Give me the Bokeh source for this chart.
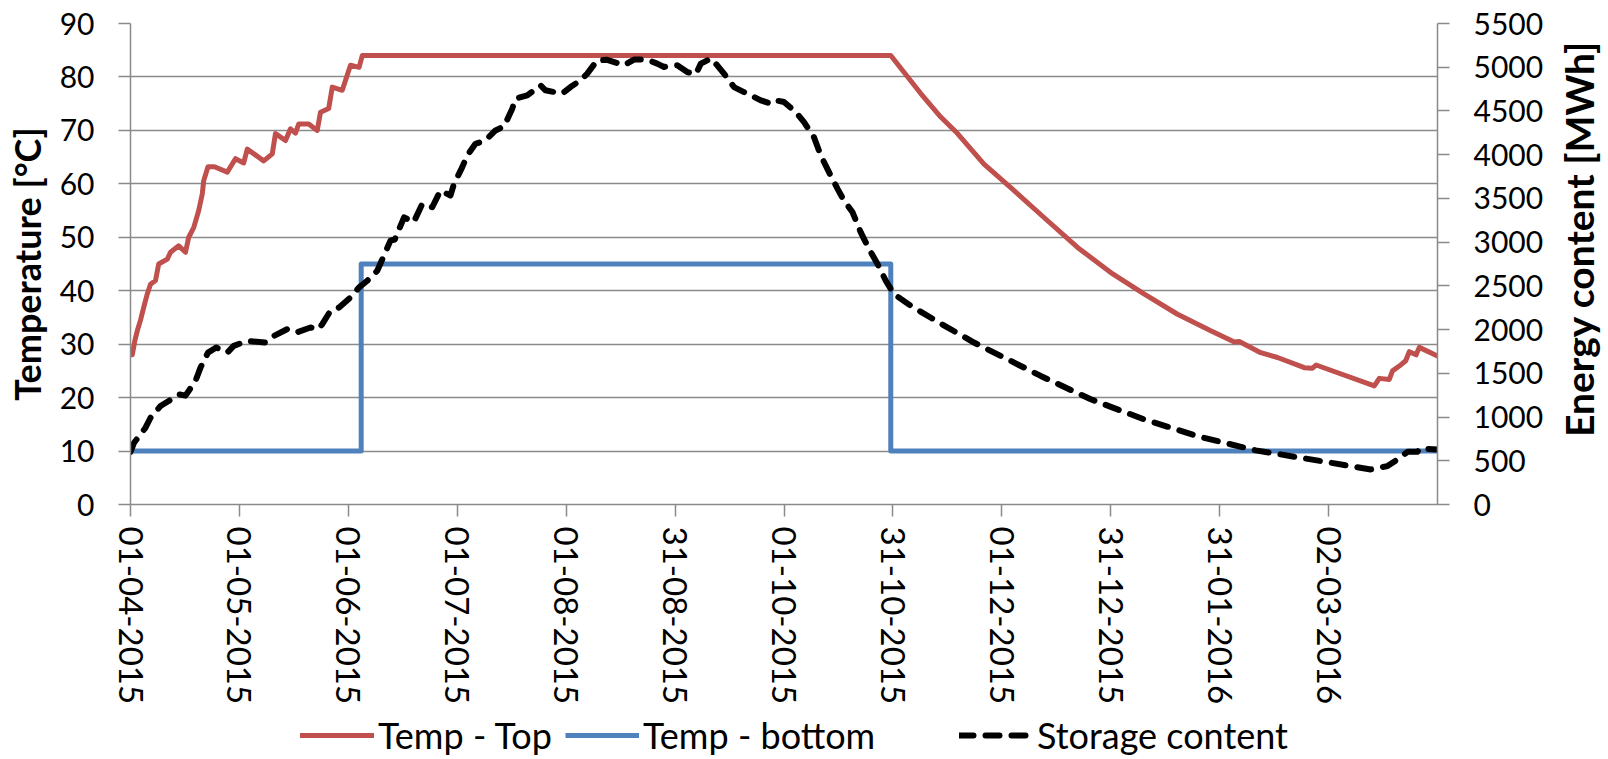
import math
from bokeh.plotting import figure
from bokeh.layouts import column, row
from bokeh.models import Range1d, LinearAxis, FixedTicker, Legend, LegendItem, Label
from bokeh.embed import file_html
from bokeh.resources import INLINE

# ---------------- data (days since 01-04-2015) ----------------
tick_days = [0, 30.5, 61, 91.5, 122, 152.5, 183, 213.5, 244, 274.5, 305, 335.5]
tick_labels = ["01-04-2015", "01-05-2015", "01-06-2015", "01-07-2015", "01-08-2015",
               "31-08-2015", "01-10-2015", "31-10-2015", "01-12-2015", "31-12-2015",
               "31-01-2016", "02-03-2016"]
temp_ticks = [0, 10, 20, 30, 40, 50, 60, 70, 80, 90]
energy_ticks = [0, 500, 1000, 1500, 2000, 2500, 3000, 3500, 4000, 4500, 5000, 5500]

top_day = [0, 0.5, 1.2, 1.9, 2.8, 3.7, 4.7, 5.6, 7.0, 7.9, 10.3, 11.2, 13.5, 15.4, 16.3,
           17.7, 19.1, 20.1, 20.5, 21.7, 23.5, 27.1, 29.4, 31.7, 32.7, 37.3, 39.7, 40.6,
           43.4, 44.8, 46.2, 47.1, 49.9, 52.3, 53.2, 55.5, 56.5, 59.3, 61.6, 64.0, 64.9,
           212.9, 221.3, 226.9, 231.6, 239.0, 246.5, 255.8, 265.2, 274.5, 283.8, 293.2,
           302.5, 309.1, 310.5, 316.5, 321.2, 328.7, 331.0, 332.0, 348.3, 349.7, 352.5,
           353.4, 355.3, 357.1, 358.1, 360.0, 360.9, 366.0]
top_temp = [28, 28, 30.6, 32.5, 34.5, 36.9, 39.4, 41.2, 41.9, 45, 45.9, 47.2, 48.4, 47.2, 50,
            51.8, 55, 58.1, 60.6, 63.2, 63.2, 62.2, 64.7, 63.9, 66.5, 64.3, 65.6, 69.4,
            68.1, 70.3, 69.5, 71.2, 71.2, 70.0, 73.4, 74.1, 78.1, 77.5, 82.2, 81.8, 84,
            84, 76.9, 72.5, 69.4, 63.7, 59.3, 53.7, 48.1, 43.4, 39.4, 35.6,
            32.5, 30.4, 30.5, 28.4, 27.5, 25.6, 25.5, 26.1, 22.2, 23.6, 23.4,
            25.0, 25.9, 26.9, 28.6, 28.0, 29.4, 27.8]

bottom_day = [0, 64.6, 64.6, 212.9, 212.9, 366.0]
bottom_temp = [10, 10, 45, 45, 10, 10]

storage_day = [0, 1, 4.2, 5.6, 8.4, 10.7, 13.5, 15.4, 18.2, 19.6, 21.7, 24, 27.1, 28.9, 32.7,
               37.8, 40.2, 43.9, 46.5, 50.4, 52.7, 53.7, 56, 58.4, 61.6, 64, 66.3, 69.1,
               72.8, 74, 76.6, 79.3, 81.7, 84.5, 86.8, 89.6, 90.6, 92.9, 94.3, 96.6, 99.4,
               102.2, 104.6, 106.9, 107.8, 111.1, 114.8, 116.2, 120.9, 123.2, 126, 127.9,
               130.7, 133.5, 138.2, 141, 144.7, 147.5, 149.4, 153.1, 155.9, 158.3, 159.7,
               162.5, 164.3, 166.2, 169, 171.8, 176.5, 179.3, 180.7, 183, 186.3, 188.6,
               191.4, 193.3, 195.6, 198, 199.8, 202.2, 204.5, 206.8, 209.2, 211.5, 213.8,
               218.5, 226.9, 236.2, 246.5, 254.9, 268.9, 283.8, 299.7, 315.1, 330.5,
               347.3, 352, 354.8, 357.6, 360.4, 361, 366]
storage_mwh = [600, 706, 878, 992, 1126, 1184, 1260, 1245, 1413, 1565, 1737, 1795, 1737, 1814,
               1871, 1852, 1928, 2005, 1967, 2024, 2005, 2062, 2215, 2253, 2367, 2482, 2558,
               2673, 3017, 3030, 3284, 3227, 3437, 3399, 3590, 3533, 3667, 3857, 3991, 4125,
               4163, 4277, 4323, 4526, 4640, 4678, 4793, 4736, 4698, 4773, 4850, 4927, 5079,
               5085, 5022, 5087, 5087, 5041, 5003, 5022, 4945, 4920, 5041, 5099, 5022, 4927,
               4773, 4716, 4621, 4583, 4621, 4602, 4487, 4372, 4200, 3991, 3800, 3609, 3475,
               3341, 3112, 2922, 2750, 2559, 2406, 2272, 2069, 1852, 1642, 1470, 1203, 974,
               771, 619, 516, 401, 439, 516, 603, 603, 640, 630]

series_names = ["Temp - Top", "Temp - bottom", "Storage content"]
left_title = "Temperature [°C]"
right_title = "Energy content [MWh]"

# ---------------- styles ----------------
FONT = "Lato"
GRID = "#8a8a8a"
RED = "#C0504D"
BLUE = "#4F81BD"
top_style = dict(line_color=RED, line_width=5, line_join="round", line_cap="round")
bot_style = dict(line_color=BLUE, line_width=5, line_join="round")
sto_style = dict(line_color="black", line_width=6, line_dash="14 12",
                 line_cap="round", line_join="round")

MAIN_W = 1552
SIDE_W = 1608 - MAIN_W
MAIN_H = 712
LEG_H = 759 - MAIN_H

# ---------------- main figure ----------------
p = figure(width=MAIN_W, height=MAIN_H, output_backend="svg", toolbar_location=None,
           x_range=Range1d(0, 366), y_range=Range1d(0, 90),
           min_border_left=130, min_border_right=MAIN_W - 1437, min_border_top=23,
           min_border_bottom=MAIN_H - 504)
p.outline_line_color = None
p.background_fill_color = "white"
p.border_fill_color = "white"
p.extra_y_ranges = {"energy": Range1d(0, 5500)}


def style_axis(ax, size):
    ax.major_label_text_font = FONT
    ax.major_label_text_font_size = size
    ax.major_label_text_color = "black"
    ax.major_tick_out = 12
    ax.major_tick_in = 0
    ax.minor_tick_line_color = None
    ax.axis_line_color = GRID
    ax.axis_line_width = 1.5
    ax.major_tick_line_color = GRID
    ax.major_tick_line_width = 1.5


xa = p.xaxis[0]
style_axis(xa, "33px")
xa.ticker = FixedTicker(ticks=tick_days)
xa.major_label_overrides = {d: l for d, l in zip(tick_days, tick_labels)}
xa.major_label_orientation = -math.pi / 2
xa.major_label_standoff = 10
p.xgrid.visible = False

ya = p.yaxis[0]
style_axis(ya, "30px")
ya.ticker = FixedTicker(ticks=temp_ticks)
ya.major_label_standoff = 24
ya.axis_label = left_title
ya.axis_label_text_font = FONT
ya.axis_label_text_font_style = "bold"
ya.axis_label_text_font_size = "36px"
ya.axis_label_text_color = "black"
ya.axis_label_standoff = 8
p.ygrid.ticker = FixedTicker(ticks=temp_ticks)
p.ygrid.grid_line_color = GRID
p.ygrid.grid_line_width = 1.5

ra = LinearAxis(y_range_name="energy", ticker=FixedTicker(ticks=energy_ticks))
style_axis(ra, "30px")
ra.major_label_standoff = 24
p.add_layout(ra, "right")

p.line(top_day, top_temp, **top_style)
p.line(bottom_day, bottom_temp, **bot_style)
p.line(storage_day, storage_mwh, y_range_name="energy", **sto_style)

# ---------------- right title strip (text reads bottom-to-top) ----------------
r = figure(width=SIDE_W, height=MAIN_H, output_backend="svg", toolbar_location=None,
           x_range=Range1d(0, 1), y_range=Range1d(0, 90),
           min_border_left=0, min_border_right=0, min_border_top=23,
           min_border_bottom=MAIN_H - 504, x_axis_location=None, y_axis_location=None)
r.outline_line_color = None
r.grid.visible = False
r.border_fill_color = "white"
r.add_layout(Label(x=0.48, y=49.7, text=right_title, angle=math.pi / 2,
                   text_align="center", text_baseline="middle", text_font=FONT,
                   text_font_style="bold", text_font_size="39px", text_color="black"))

# ---------------- legend strip ----------------
q = figure(width=MAIN_W, height=LEG_H, output_backend="svg", toolbar_location=None,
           x_range=Range1d(-1000, -999), y_range=Range1d(-1000, -999), min_border=0,
           x_axis_location=None, y_axis_location=None)
q.outline_line_color = None
q.grid.visible = False
q.border_fill_color = "white"
# same series (outside this strip's view) so the legend shows their line styles
lr_top = q.line(top_day, top_temp, **top_style)
lr_bot = q.line(bottom_day, bottom_temp, **bot_style)
lr_sto = q.line(storage_day, storage_mwh, **sto_style)
for rend, name, vx in [(lr_top, series_names[0], 170), (lr_bot, series_names[1], 435),
                       (lr_sto, series_names[2], 829)]:
    q.add_layout(Legend(items=[LegendItem(label=name, renderers=[rend])],
                        location=(vx, 2), orientation="horizontal",
                        label_text_font=FONT, label_text_font_size="36px",
                        label_text_color="black", glyph_width=74, glyph_height=20,
                        label_standoff=4, padding=0, margin=0, spacing=0,
                        border_line_alpha=0, background_fill_alpha=0))

layout = row(column(p, q, spacing=0), r, spacing=0)
open("out.html", "w").write(file_html(layout, INLINE))
